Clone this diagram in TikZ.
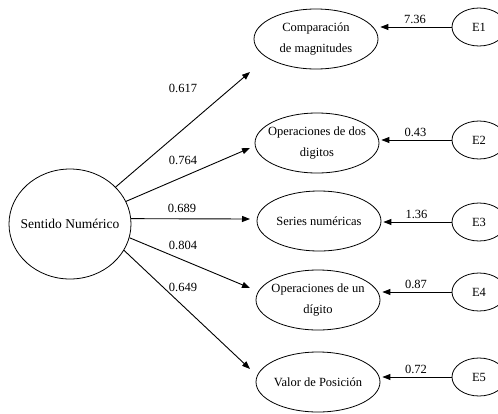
\documentclass[tikz,border=0pt]{standalone}
\usepackage{fontspec}
\setmainfont{Liberation Serif}
\usetikzlibrary{arrows.meta,shapes.geometric}

\begin{document}
\begin{tikzpicture}[
  x=1pt, y=-1pt,
  factor/.style={draw, ellipse, line width=0.8pt, minimum width=122pt, minimum height=110pt, inner xsep=-22pt, inner ysep=0pt, font=\fontsize{13.5}{16}\selectfont},
  indicator/.style={draw, ellipse, line width=0.8pt, minimum width=124pt, minimum height=60pt, inner xsep=-20pt, inner ysep=0pt, align=center, font=\fontsize{12.5}{21}\selectfont},
  error/.style={draw, ellipse, line width=0.8pt, minimum width=54pt, minimum height=38pt, inner sep=0pt, font=\fontsize{12.5}{15}\selectfont},
  arrow/.style={-{Triangle[length=8pt,width=6pt]}, line width=0.9pt},
  coef/.style={font=\fontsize{12.5}{15}\selectfont}
]
\useasboundingbox (0,0) rectangle (498,413);
% Factor
\node[factor] (sn) at (70,224) {Sentido Numérico};
% Indicators
\node[indicator] (comp) at (316,39) {Comparación\\de magnitudes};
\node[indicator] (dos) at (317,143) {Operaciones de dos\\digitos};
\node[indicator] (ser) at (319,221) {Series numéricas};
\node[indicator] (un) at (318,300) {Operaciones de un\\dígito};
\node[indicator] (val) at (318,382) {Valor de Posición};
% Errors
\node[error] (e1) at (479,27) {E1};
\node[error] (e2) at (479,140) {E2};
\node[error] (e3) at (479,222) {E3};
\node[error] (e4) at (479,292) {E4};
\node[error] (e5) at (479,377) {E5};
% Arrow tips (short of the indicators)
\coordinate (t1) at (250,72);
\coordinate (t2) at (250,148);
\coordinate (t3) at (250,219);
\coordinate (t4) at (250,288);
\coordinate (t5) at (250,369);
% Loadings
\draw[arrow] (sn.39) -- (t1);
\draw[arrow] (sn.22) -- (t2);
\draw[arrow] (sn.5) -- (t3);
\draw[arrow] (sn.-13) -- (t4);
\draw[arrow] (sn.-26) -- (t5);
\node[coef] (l1) at (183,88) {0.617};
\node[coef] (l2) at (183,160) {0.764};
\node[coef] (l3) at (182,208) {0.689};
\node[coef] (l4) at (183,245) {0.804};
\node[coef] (l5) at (183,287) {0.649};
% Error arrows
\draw[arrow, shorten >=2pt] (e1.west) -- (e1.west -| comp.east) node[midway, above, coef] {7.36};
\draw[arrow, shorten >=2pt] (e2.west) -- (e2.west -| dos.east) node[midway, above, coef] {0.43};
\draw[arrow, shorten >=2pt] (e3.west) -- (e3.west -| ser.east) node[midway, above, coef] {1.36};
\draw[arrow, shorten >=2pt] (e4.west) -- (e4.west -| un.east) node[midway, above, coef] {0.87};
\draw[arrow, shorten >=2pt] (e5.west) -- (e5.west -| val.east) node[midway, above, coef] {0.72};
\end{tikzpicture}
\end{document}
